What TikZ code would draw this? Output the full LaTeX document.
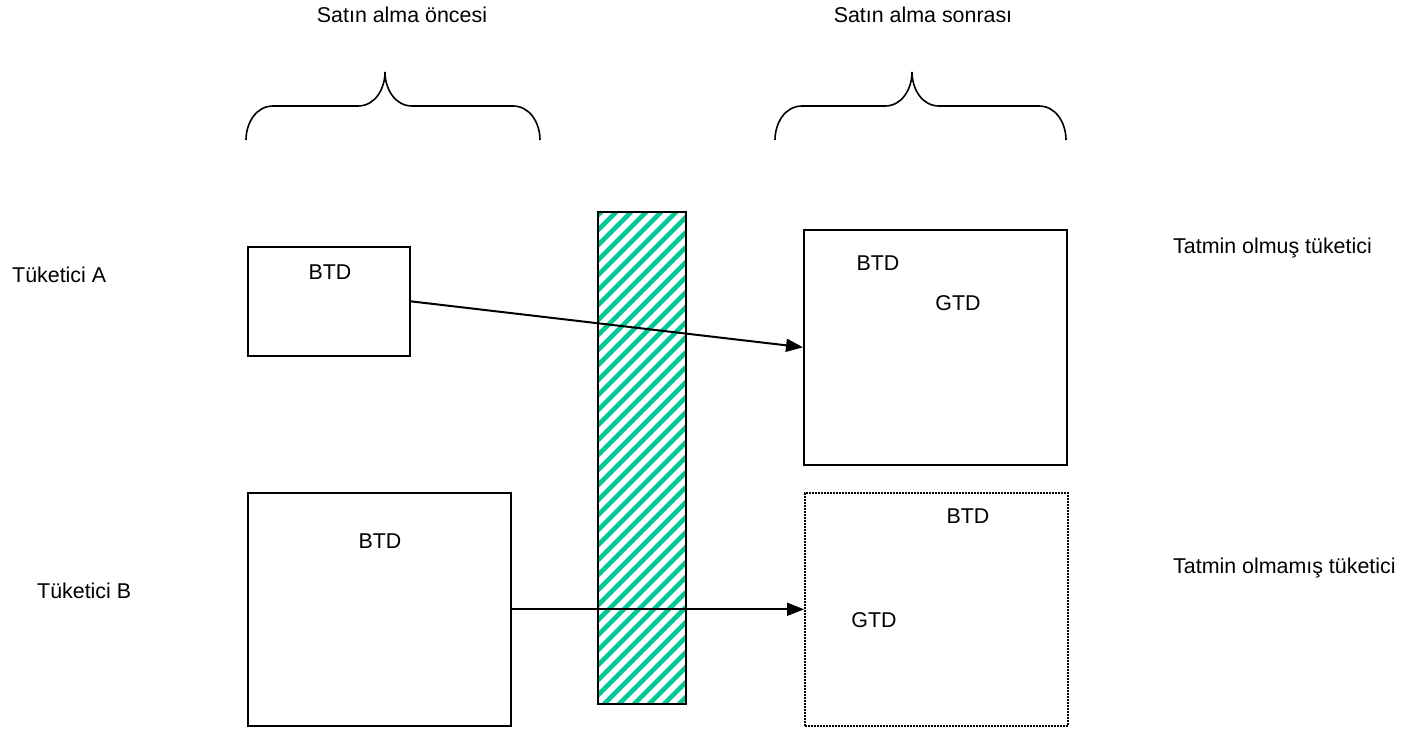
\documentclass[tikz,border=0pt]{standalone}
\usepackage{fontspec}
\setmainfont{Liberation Sans}
\usetikzlibrary{arrows.meta}
\definecolor{hatch}{RGB}{0,200,150}
\begin{document}
\begin{tikzpicture}[x=1pt,y=-1pt,
  every node/.style={inner sep=0pt,font=\fontsize{21.4}{25}\selectfont},
  boxs/.style={draw,line width=1.6pt,rectangle,anchor=north west},
  dotbox/.style={draw,line width=1.6pt,rectangle,anchor=north west,dash pattern=on 1.8pt off 1.2pt},
  bracepath/.style={line width=1.6pt},
  arr/.style={line width=2pt,-{Triangle[length=17pt,width=13pt]}},
  lbl/.style={anchor=base west},
  tlbl/.style={anchor=base}]
\useasboundingbox (0,0) rectangle (1405,731);
% titles
\node[tlbl] (t1) at (402,22) {Satın alma öncesi};
\node[tlbl] (t2) at (923,22) {Satın alma sonrası};
% braces
\draw[bracepath] (246,140) to[out=90,in=180] (273,106) -- (358,106) to[out=0,in=-90] (385,72) to[out=-90,in=180] (412,106) -- (513,106) to[out=0,in=90] (540,140);
\draw[bracepath] (775,140) to[out=90,in=180] (802,106) -- (885,106) to[out=0,in=-90] (912,72) to[out=-90,in=180] (939,106) -- (1039,106) to[out=0,in=90] (1066,140);
% hatched bar
\begin{scope}
\clip (598,212) rectangle (686,704);
\foreach \i in {-36,...,7} {
  \draw[hatch,line width=4.6pt] (598+15*\i,710) -- (598+15*\i+504,206);
}
\end{scope}
\draw[line width=1.6pt] (598,212) rectangle (686,704);
% boxes
\node[boxs,minimum width=162pt,minimum height=109pt] (a1) at (247,246) {};
\node[boxs,minimum width=263pt,minimum height=233pt] (b1) at (247,492) {};
\node[boxs,minimum width=263pt,minimum height=235pt] (a2) at (803,229) {};
\node[dotbox,minimum width=263pt,minimum height=233pt] (b2) at (804,492) {};
% inner labels
\node (a1b) at (330,272) {BTD};
\node (b1b) at (380,541) {BTD};
\node (a2b) at (878,263) {BTD};
\node (a2g) at (958,303) {GTD};
\node (b2b) at (968,516) {BTD};
\node (b2g) at (874,620) {GTD};
% side labels
\node[lbl] (ta) at (12,282) {Tüketici A};
\node[lbl] (tb) at (37,598) {Tüketici B};
\node[lbl] (sa) at (1173,253) {Tatmin olmuş tüketici};
\node[lbl] (sb) at (1173,573) {Tatmin olmamış tüketici};
% arrows
\draw[arr] (a1.east) -- (a2.west);
\draw[arr] (b1.east) -- (b2.west);
\end{tikzpicture}
\end{document}
